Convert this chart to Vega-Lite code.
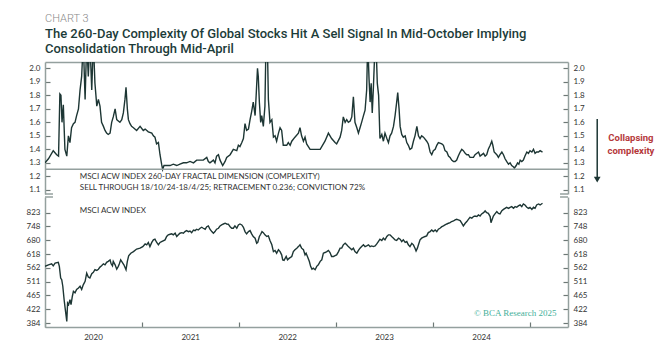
{
  "$schema": "https://vega.github.io/schema/vega-lite/v6.json",
  "background": "white",
  "padding": {"left": 26, "top": 13, "right": 5, "bottom": 5},
  "title": {
    "text": "CHART 3",
    "subtitle": ["The 260-Day Complexity Of Global Stocks Hit A Sell Signal In Mid-October Implying", "Consolidation Through Mid-April"],
    "anchor": "start",
    "frame": "group",
    "font": "Roboto",
    "fontSize": 11,
    "fontWeight": 300,
    "color": "#8a8a8a",
    "subtitleFont": "Roboto",
    "subtitleFontSize": 13,
    "subtitleFontWeight": 500,
    "subtitleColor": "#1c3c39",
    "subtitleLineHeight": 15,
    "subtitlePadding": 4,
    "offset": 6
  },
  "config": {
    "view": {"stroke": null},
    "axis": {
      "labelFont": "Lato",
      "labelFontSize": 8,
      "labelColor": "#333333",
      "domain": true,
      "domainWidth": 1.5,
      "domainColor": "#94a09e",
      "ticks": true,
      "tickWidth": 1.2,
      "tickColor": "#6d7876",
      "grid": false,
      "title": null
    }
  },
  "spacing": 1,
  "datasets": {
    "cx": [
      {"date": "2020-01-01", "v": 1.30}, {"date": "2020-01-14", "v": 1.33}, {"date": "2020-02-01", "v": 1.39}, {"date": "2020-02-14", "v": 1.36},
      {"date": "2020-02-21", "v": 1.35}, {"date": "2020-02-26", "v": 1.81}, {"date": "2020-03-01", "v": 1.80}, {"date": "2020-03-05", "v": 1.60},
      {"date": "2020-03-10", "v": 1.73}, {"date": "2020-03-16", "v": 1.40}, {"date": "2020-03-23", "v": 1.35}, {"date": "2020-03-29", "v": 1.50},
      {"date": "2020-04-04", "v": 1.45}, {"date": "2020-04-10", "v": 1.56}, {"date": "2020-04-17", "v": 1.59}, {"date": "2020-04-23", "v": 1.60},
      {"date": "2020-04-29", "v": 1.65}, {"date": "2020-05-06", "v": 1.70}, {"date": "2020-05-12", "v": 1.84}, {"date": "2020-05-18", "v": 1.94},
      {"date": "2020-05-24", "v": 2.2}, {"date": "2020-05-31", "v": 1.77}, {"date": "2020-06-06", "v": 2.2}, {"date": "2020-06-12", "v": 1.94},
      {"date": "2020-06-18", "v": 2.2}, {"date": "2020-06-25", "v": 1.84}, {"date": "2020-07-01", "v": 2.2}, {"date": "2020-07-07", "v": 1.89},
      {"date": "2020-07-14", "v": 1.72}, {"date": "2020-07-20", "v": 1.77}, {"date": "2020-07-26", "v": 1.72}, {"date": "2020-08-01", "v": 1.60},
      {"date": "2020-08-08", "v": 1.57}, {"date": "2020-08-14", "v": 1.54}, {"date": "2020-08-20", "v": 1.52}, {"date": "2020-08-26", "v": 1.51},
      {"date": "2020-09-02", "v": 1.52}, {"date": "2020-09-08", "v": 1.60}, {"date": "2020-09-14", "v": 1.64}, {"date": "2020-09-21", "v": 1.70},
      {"date": "2020-09-27", "v": 1.62}, {"date": "2020-10-03", "v": 1.61}, {"date": "2020-10-09", "v": 1.60}, {"date": "2020-10-16", "v": 1.62},
      {"date": "2020-10-22", "v": 1.67}, {"date": "2020-10-28", "v": 1.77}, {"date": "2020-11-01", "v": 1.86}, {"date": "2020-11-06", "v": 1.70},
      {"date": "2020-11-10", "v": 1.62}, {"date": "2020-11-16", "v": 1.59}, {"date": "2020-11-22", "v": 1.57}, {"date": "2020-11-29", "v": 1.56},
      {"date": "2020-12-11", "v": 1.54}, {"date": "2020-12-24", "v": 1.57}, {"date": "2021-01-05", "v": 1.54}, {"date": "2021-01-12", "v": 1.55},
      {"date": "2021-01-24", "v": 1.53}, {"date": "2021-02-06", "v": 1.52}, {"date": "2021-02-12", "v": 1.50}, {"date": "2021-02-18", "v": 1.49},
      {"date": "2021-02-24", "v": 1.44}, {"date": "2021-03-03", "v": 1.45}, {"date": "2021-03-09", "v": 1.36}, {"date": "2021-03-15", "v": 1.29},
      {"date": "2021-03-19", "v": 1.25}, {"date": "2021-03-24", "v": 1.28}, {"date": "2021-04-03", "v": 1.28}, {"date": "2021-04-16", "v": 1.28},
      {"date": "2021-04-28", "v": 1.29}, {"date": "2021-05-11", "v": 1.28}, {"date": "2021-05-23", "v": 1.29}, {"date": "2021-06-05", "v": 1.30},
      {"date": "2021-06-17", "v": 1.30}, {"date": "2021-06-30", "v": 1.31}, {"date": "2021-07-13", "v": 1.30}, {"date": "2021-07-25", "v": 1.32},
      {"date": "2021-08-07", "v": 1.32}, {"date": "2021-08-19", "v": 1.32}, {"date": "2021-09-01", "v": 1.34}, {"date": "2021-09-07", "v": 1.31},
      {"date": "2021-09-13", "v": 1.30}, {"date": "2021-09-26", "v": 1.32}, {"date": "2021-10-02", "v": 1.30}, {"date": "2021-10-08", "v": 1.35},
      {"date": "2021-10-15", "v": 1.36}, {"date": "2021-10-21", "v": 1.32}, {"date": "2021-10-31", "v": 1.28}, {"date": "2021-11-09", "v": 1.31},
      {"date": "2021-11-15", "v": 1.34}, {"date": "2021-11-28", "v": 1.36}, {"date": "2021-12-10", "v": 1.40}, {"date": "2021-12-23", "v": 1.39},
      {"date": "2021-12-29", "v": 1.43}, {"date": "2022-01-04", "v": 1.42}, {"date": "2022-01-11", "v": 1.45}, {"date": "2022-01-17", "v": 1.48},
      {"date": "2022-01-23", "v": 1.59}, {"date": "2022-01-29", "v": 1.54}, {"date": "2022-02-05", "v": 1.55}, {"date": "2022-02-11", "v": 1.62},
      {"date": "2022-02-17", "v": 1.68}, {"date": "2022-02-23", "v": 1.75}, {"date": "2022-03-02", "v": 1.65}, {"date": "2022-03-06", "v": 1.80},
      {"date": "2022-03-11", "v": 2.00}, {"date": "2022-03-14", "v": 1.94}, {"date": "2022-03-18", "v": 1.75}, {"date": "2022-03-23", "v": 1.60},
      {"date": "2022-03-27", "v": 1.65}, {"date": "2022-04-02", "v": 1.57}, {"date": "2022-04-08", "v": 1.72}, {"date": "2022-04-12", "v": 2.2},
      {"date": "2022-04-17", "v": 2.2}, {"date": "2022-04-21", "v": 1.77}, {"date": "2022-04-27", "v": 1.60}, {"date": "2022-05-04", "v": 1.62},
      {"date": "2022-05-10", "v": 1.49}, {"date": "2022-05-16", "v": 1.50}, {"date": "2022-05-22", "v": 1.46}, {"date": "2022-05-29", "v": 1.52},
      {"date": "2022-06-04", "v": 1.56}, {"date": "2022-06-10", "v": 1.54}, {"date": "2022-06-16", "v": 1.43}, {"date": "2022-06-29", "v": 1.43},
      {"date": "2022-07-05", "v": 1.45}, {"date": "2022-07-12", "v": 1.43}, {"date": "2022-07-18", "v": 1.46}, {"date": "2022-07-30", "v": 1.49},
      {"date": "2022-08-12", "v": 1.52}, {"date": "2022-08-18", "v": 1.56}, {"date": "2022-08-24", "v": 1.50}, {"date": "2022-08-31", "v": 1.46},
      {"date": "2022-09-06", "v": 1.49}, {"date": "2022-09-12", "v": 1.44}, {"date": "2022-09-25", "v": 1.40}, {"date": "2022-10-07", "v": 1.40},
      {"date": "2022-10-20", "v": 1.40}, {"date": "2022-11-02", "v": 1.40}, {"date": "2022-11-14", "v": 1.44}, {"date": "2022-11-20", "v": 1.46},
      {"date": "2022-12-03", "v": 1.52}, {"date": "2022-12-15", "v": 1.48}, {"date": "2022-12-28", "v": 1.45}, {"date": "2023-01-03", "v": 1.44},
      {"date": "2023-01-16", "v": 1.49}, {"date": "2023-01-22", "v": 1.54}, {"date": "2023-01-28", "v": 1.64}, {"date": "2023-02-04", "v": 1.60},
      {"date": "2023-02-10", "v": 1.62}, {"date": "2023-02-16", "v": 1.60}, {"date": "2023-02-23", "v": 1.61}, {"date": "2023-03-01", "v": 1.64},
      {"date": "2023-03-07", "v": 1.79}, {"date": "2023-03-13", "v": 1.60}, {"date": "2023-03-20", "v": 1.56}, {"date": "2023-03-26", "v": 1.52},
      {"date": "2023-04-01", "v": 1.56}, {"date": "2023-04-07", "v": 1.60}, {"date": "2023-04-14", "v": 1.65}, {"date": "2023-04-20", "v": 1.69},
      {"date": "2023-04-26", "v": 1.84}, {"date": "2023-04-30", "v": 2.2}, {"date": "2023-05-05", "v": 1.92}, {"date": "2023-05-09", "v": 1.75},
      {"date": "2023-05-13", "v": 1.89}, {"date": "2023-05-17", "v": 1.67}, {"date": "2023-05-21", "v": 1.84}, {"date": "2023-05-28", "v": 2.2},
      {"date": "2023-05-31", "v": 2.2}, {"date": "2023-06-05", "v": 1.89}, {"date": "2023-06-10", "v": 1.80}, {"date": "2023-06-15", "v": 1.48},
      {"date": "2023-06-22", "v": 1.51}, {"date": "2023-06-28", "v": 1.46}, {"date": "2023-07-04", "v": 1.52}, {"date": "2023-07-11", "v": 1.48},
      {"date": "2023-07-17", "v": 1.45}, {"date": "2023-07-23", "v": 1.50}, {"date": "2023-07-29", "v": 1.52}, {"date": "2023-08-05", "v": 1.57},
      {"date": "2023-08-11", "v": 1.65}, {"date": "2023-08-17", "v": 1.75}, {"date": "2023-08-21", "v": 1.82}, {"date": "2023-08-26", "v": 1.70},
      {"date": "2023-08-30", "v": 1.57}, {"date": "2023-09-05", "v": 1.51}, {"date": "2023-09-11", "v": 1.49}, {"date": "2023-09-18", "v": 1.50},
      {"date": "2023-09-24", "v": 1.45}, {"date": "2023-09-30", "v": 1.43}, {"date": "2023-10-06", "v": 1.40}, {"date": "2023-10-13", "v": 1.41},
      {"date": "2023-10-19", "v": 1.46}, {"date": "2023-10-25", "v": 1.50}, {"date": "2023-11-01", "v": 1.57}, {"date": "2023-11-07", "v": 1.50},
      {"date": "2023-11-13", "v": 1.48}, {"date": "2023-11-19", "v": 1.50}, {"date": "2023-11-26", "v": 1.49}, {"date": "2023-12-08", "v": 1.46},
      {"date": "2023-12-14", "v": 1.44}, {"date": "2023-12-21", "v": 1.38}, {"date": "2023-12-27", "v": 1.36}, {"date": "2024-01-02", "v": 1.39},
      {"date": "2024-01-09", "v": 1.40}, {"date": "2024-01-15", "v": 1.43}, {"date": "2024-01-21", "v": 1.45}, {"date": "2024-02-03", "v": 1.44},
      {"date": "2024-02-09", "v": 1.43}, {"date": "2024-02-15", "v": 1.39}, {"date": "2024-02-22", "v": 1.38}, {"date": "2024-02-28", "v": 1.35},
      {"date": "2024-03-05", "v": 1.34}, {"date": "2024-03-11", "v": 1.32}, {"date": "2024-03-18", "v": 1.31}, {"date": "2024-03-24", "v": 1.31},
      {"date": "2024-03-30", "v": 1.32}, {"date": "2024-04-05", "v": 1.35}, {"date": "2024-04-12", "v": 1.38}, {"date": "2024-04-18", "v": 1.40},
      {"date": "2024-04-24", "v": 1.39}, {"date": "2024-05-01", "v": 1.37}, {"date": "2024-05-07", "v": 1.36}, {"date": "2024-05-13", "v": 1.36},
      {"date": "2024-05-19", "v": 1.34}, {"date": "2024-06-01", "v": 1.34}, {"date": "2024-06-07", "v": 1.36}, {"date": "2024-06-20", "v": 1.38},
      {"date": "2024-06-26", "v": 1.35}, {"date": "2024-07-09", "v": 1.37}, {"date": "2024-07-15", "v": 1.35}, {"date": "2024-07-21", "v": 1.36},
      {"date": "2024-07-27", "v": 1.40}, {"date": "2024-08-03", "v": 1.43}, {"date": "2024-08-09", "v": 1.46}, {"date": "2024-08-13", "v": 1.43},
      {"date": "2024-08-18", "v": 1.38}, {"date": "2024-08-28", "v": 1.36}, {"date": "2024-09-03", "v": 1.34}, {"date": "2024-09-09", "v": 1.36},
      {"date": "2024-09-16", "v": 1.38}, {"date": "2024-09-22", "v": 1.36}, {"date": "2024-09-28", "v": 1.33}, {"date": "2024-10-04", "v": 1.31},
      {"date": "2024-10-11", "v": 1.29}, {"date": "2024-10-17", "v": 1.30}, {"date": "2024-10-23", "v": 1.28}, {"date": "2024-10-30", "v": 1.27},
      {"date": "2024-11-02", "v": 1.26}, {"date": "2024-11-09", "v": 1.28}, {"date": "2024-11-14", "v": 1.30}, {"date": "2024-11-19", "v": 1.29},
      {"date": "2024-11-24", "v": 1.32}, {"date": "2024-11-30", "v": 1.31}, {"date": "2024-12-06", "v": 1.32}, {"date": "2024-12-12", "v": 1.35},
      {"date": "2024-12-19", "v": 1.38}, {"date": "2024-12-25", "v": 1.37}, {"date": "2024-12-31", "v": 1.39}, {"date": "2025-01-07", "v": 1.38},
      {"date": "2025-01-13", "v": 1.40}, {"date": "2025-01-19", "v": 1.37}, {"date": "2025-01-25", "v": 1.38}, {"date": "2025-02-01", "v": 1.38},
      {"date": "2025-02-07", "v": 1.39}, {"date": "2025-02-16", "v": 1.38}
    ],
    "acwi": [
      {"date": "2020-01-01", "v": 568}, {"date": "2020-01-14", "v": 574}, {"date": "2020-01-26", "v": 578}, {"date": "2020-02-01", "v": 570},
      {"date": "2020-02-08", "v": 581}, {"date": "2020-02-20", "v": 584}, {"date": "2020-02-24", "v": 568}, {"date": "2020-02-29", "v": 524},
      {"date": "2020-03-04", "v": 518}, {"date": "2020-03-08", "v": 495}, {"date": "2020-03-13", "v": 451}, {"date": "2020-03-16", "v": 431},
      {"date": "2020-03-20", "v": 406}, {"date": "2020-03-23", "v": 388}, {"date": "2020-03-26", "v": 441}, {"date": "2020-03-30", "v": 436},
      {"date": "2020-04-04", "v": 451}, {"date": "2020-04-08", "v": 436}, {"date": "2020-04-13", "v": 462}, {"date": "2020-04-17", "v": 478},
      {"date": "2020-04-23", "v": 473}, {"date": "2020-04-29", "v": 484}, {"date": "2020-05-06", "v": 489}, {"date": "2020-05-12", "v": 495},
      {"date": "2020-05-18", "v": 484}, {"date": "2020-05-24", "v": 500}, {"date": "2020-05-31", "v": 512}, {"date": "2020-06-06", "v": 542},
      {"date": "2020-06-12", "v": 528}, {"date": "2020-06-18", "v": 524}, {"date": "2020-06-25", "v": 540}, {"date": "2020-07-01", "v": 545},
      {"date": "2020-07-07", "v": 555}, {"date": "2020-07-14", "v": 552}, {"date": "2020-07-20", "v": 557}, {"date": "2020-07-26", "v": 565},
      {"date": "2020-08-01", "v": 570}, {"date": "2020-08-08", "v": 578}, {"date": "2020-08-14", "v": 574}, {"date": "2020-08-20", "v": 584},
      {"date": "2020-08-26", "v": 588}, {"date": "2020-09-02", "v": 594}, {"date": "2020-09-06", "v": 578}, {"date": "2020-09-11", "v": 570},
      {"date": "2020-09-14", "v": 588}, {"date": "2020-09-21", "v": 574}, {"date": "2020-09-27", "v": 557}, {"date": "2020-10-03", "v": 568},
      {"date": "2020-10-07", "v": 578}, {"date": "2020-10-12", "v": 594}, {"date": "2020-10-18", "v": 584}, {"date": "2020-10-24", "v": 574},
      {"date": "2020-11-01", "v": 555}, {"date": "2020-11-06", "v": 588}, {"date": "2020-11-11", "v": 611}, {"date": "2020-11-19", "v": 622},
      {"date": "2020-11-29", "v": 629}, {"date": "2020-12-11", "v": 640}, {"date": "2020-12-24", "v": 644}, {"date": "2021-01-03", "v": 651},
      {"date": "2021-01-12", "v": 663}, {"date": "2021-01-18", "v": 659}, {"date": "2021-01-24", "v": 670}, {"date": "2021-01-30", "v": 651},
      {"date": "2021-02-06", "v": 670}, {"date": "2021-02-12", "v": 682}, {"date": "2021-02-18", "v": 685}, {"date": "2021-02-24", "v": 671},
      {"date": "2021-03-03", "v": 659}, {"date": "2021-03-09", "v": 670}, {"date": "2021-03-15", "v": 674}, {"date": "2021-03-28", "v": 682},
      {"date": "2021-04-03", "v": 698}, {"date": "2021-04-09", "v": 706}, {"date": "2021-04-16", "v": 709}, {"date": "2021-04-22", "v": 711},
      {"date": "2021-04-28", "v": 706}, {"date": "2021-05-05", "v": 714}, {"date": "2021-05-11", "v": 698}, {"date": "2021-05-17", "v": 706},
      {"date": "2021-05-23", "v": 714}, {"date": "2021-05-30", "v": 717}, {"date": "2021-06-05", "v": 714}, {"date": "2021-06-11", "v": 722},
      {"date": "2021-06-17", "v": 727}, {"date": "2021-06-24", "v": 722}, {"date": "2021-06-30", "v": 725}, {"date": "2021-07-06", "v": 717},
      {"date": "2021-07-13", "v": 730}, {"date": "2021-07-19", "v": 727}, {"date": "2021-07-25", "v": 734}, {"date": "2021-07-31", "v": 730},
      {"date": "2021-08-07", "v": 739}, {"date": "2021-08-13", "v": 744}, {"date": "2021-08-19", "v": 739}, {"date": "2021-08-26", "v": 734},
      {"date": "2021-09-01", "v": 747}, {"date": "2021-09-07", "v": 751}, {"date": "2021-09-13", "v": 734}, {"date": "2021-09-20", "v": 722},
      {"date": "2021-09-26", "v": 714}, {"date": "2021-10-02", "v": 722}, {"date": "2021-10-08", "v": 734}, {"date": "2021-10-15", "v": 739},
      {"date": "2021-10-21", "v": 751}, {"date": "2021-10-27", "v": 756}, {"date": "2021-11-03", "v": 761}, {"date": "2021-11-09", "v": 765},
      {"date": "2021-11-15", "v": 761}, {"date": "2021-11-21", "v": 760}, {"date": "2021-11-28", "v": 747}, {"date": "2021-12-04", "v": 739},
      {"date": "2021-12-10", "v": 739}, {"date": "2021-12-16", "v": 751}, {"date": "2021-12-23", "v": 739}, {"date": "2021-12-29", "v": 756},
      {"date": "2022-01-04", "v": 761}, {"date": "2022-01-11", "v": 756}, {"date": "2022-01-17", "v": 744}, {"date": "2022-01-23", "v": 722},
      {"date": "2022-01-29", "v": 711}, {"date": "2022-02-05", "v": 722}, {"date": "2022-02-11", "v": 727}, {"date": "2022-02-17", "v": 711},
      {"date": "2022-02-23", "v": 698}, {"date": "2022-03-02", "v": 690}, {"date": "2022-03-08", "v": 666}, {"date": "2022-03-12", "v": 670},
      {"date": "2022-03-18", "v": 698}, {"date": "2022-03-23", "v": 709}, {"date": "2022-03-28", "v": 722}, {"date": "2022-04-02", "v": 717},
      {"date": "2022-04-08", "v": 706}, {"date": "2022-04-15", "v": 698}, {"date": "2022-04-21", "v": 701}, {"date": "2022-04-27", "v": 679},
      {"date": "2022-05-04", "v": 659}, {"date": "2022-05-10", "v": 629}, {"date": "2022-05-16", "v": 634}, {"date": "2022-05-22", "v": 622},
      {"date": "2022-05-29", "v": 637}, {"date": "2022-06-04", "v": 629}, {"date": "2022-06-10", "v": 615}, {"date": "2022-06-14", "v": 594},
      {"date": "2022-06-19", "v": 592}, {"date": "2022-06-27", "v": 608}, {"date": "2022-07-02", "v": 594}, {"date": "2022-07-09", "v": 601},
      {"date": "2022-07-18", "v": 608}, {"date": "2022-07-24", "v": 629}, {"date": "2022-07-30", "v": 637}, {"date": "2022-08-06", "v": 644},
      {"date": "2022-08-12", "v": 651}, {"date": "2022-08-18", "v": 659}, {"date": "2022-08-24", "v": 644}, {"date": "2022-08-31", "v": 637},
      {"date": "2022-09-06", "v": 615}, {"date": "2022-09-10", "v": 622}, {"date": "2022-09-15", "v": 608}, {"date": "2022-09-22", "v": 588},
      {"date": "2022-09-27", "v": 568}, {"date": "2022-10-02", "v": 557}, {"date": "2022-10-07", "v": 561}, {"date": "2022-10-14", "v": 555},
      {"date": "2022-10-20", "v": 568}, {"date": "2022-10-26", "v": 574}, {"date": "2022-11-02", "v": 588}, {"date": "2022-11-08", "v": 594},
      {"date": "2022-11-14", "v": 622}, {"date": "2022-11-20", "v": 625}, {"date": "2022-11-27", "v": 629}, {"date": "2022-12-03", "v": 634},
      {"date": "2022-12-09", "v": 625}, {"date": "2022-12-15", "v": 608}, {"date": "2022-12-22", "v": 608}, {"date": "2022-12-28", "v": 612},
      {"date": "2023-01-03", "v": 615}, {"date": "2023-01-10", "v": 629}, {"date": "2023-01-16", "v": 644}, {"date": "2023-01-22", "v": 644},
      {"date": "2023-01-28", "v": 659}, {"date": "2023-02-04", "v": 666}, {"date": "2023-02-10", "v": 659}, {"date": "2023-02-16", "v": 651},
      {"date": "2023-02-23", "v": 644}, {"date": "2023-03-01", "v": 637}, {"date": "2023-03-07", "v": 644}, {"date": "2023-03-13", "v": 629},
      {"date": "2023-03-20", "v": 622}, {"date": "2023-03-26", "v": 634}, {"date": "2023-04-01", "v": 644}, {"date": "2023-04-07", "v": 651},
      {"date": "2023-04-14", "v": 659}, {"date": "2023-04-20", "v": 651}, {"date": "2023-04-26", "v": 654}, {"date": "2023-05-03", "v": 659},
      {"date": "2023-05-09", "v": 651}, {"date": "2023-05-15", "v": 654}, {"date": "2023-05-21", "v": 651}, {"date": "2023-05-28", "v": 654},
      {"date": "2023-06-03", "v": 663}, {"date": "2023-06-09", "v": 674}, {"date": "2023-06-15", "v": 685}, {"date": "2023-06-22", "v": 679},
      {"date": "2023-06-28", "v": 690}, {"date": "2023-07-04", "v": 682}, {"date": "2023-07-11", "v": 698}, {"date": "2023-07-17", "v": 706},
      {"date": "2023-07-23", "v": 706}, {"date": "2023-07-29", "v": 698}, {"date": "2023-08-05", "v": 690}, {"date": "2023-08-11", "v": 682},
      {"date": "2023-08-17", "v": 679}, {"date": "2023-08-24", "v": 690}, {"date": "2023-08-30", "v": 685}, {"date": "2023-09-05", "v": 674},
      {"date": "2023-09-11", "v": 682}, {"date": "2023-09-18", "v": 670}, {"date": "2023-09-24", "v": 674}, {"date": "2023-09-30", "v": 659},
      {"date": "2023-10-06", "v": 651}, {"date": "2023-10-13", "v": 666}, {"date": "2023-10-19", "v": 659}, {"date": "2023-10-25", "v": 644},
      {"date": "2023-10-29", "v": 632}, {"date": "2023-11-03", "v": 644}, {"date": "2023-11-07", "v": 659}, {"date": "2023-11-13", "v": 682},
      {"date": "2023-11-19", "v": 690}, {"date": "2023-11-26", "v": 695}, {"date": "2023-12-02", "v": 698}, {"date": "2023-12-08", "v": 701},
      {"date": "2023-12-14", "v": 717}, {"date": "2023-12-21", "v": 722}, {"date": "2023-12-27", "v": 730}, {"date": "2024-01-02", "v": 722},
      {"date": "2024-01-09", "v": 730}, {"date": "2024-01-15", "v": 722}, {"date": "2024-01-21", "v": 734}, {"date": "2024-01-27", "v": 739},
      {"date": "2024-02-03", "v": 747}, {"date": "2024-02-09", "v": 751}, {"date": "2024-02-15", "v": 756}, {"date": "2024-02-22", "v": 761},
      {"date": "2024-02-28", "v": 765}, {"date": "2024-03-05", "v": 768}, {"date": "2024-03-11", "v": 774}, {"date": "2024-03-18", "v": 777},
      {"date": "2024-03-24", "v": 783}, {"date": "2024-03-30", "v": 786}, {"date": "2024-04-05", "v": 783}, {"date": "2024-04-12", "v": 779},
      {"date": "2024-04-18", "v": 765}, {"date": "2024-04-24", "v": 751}, {"date": "2024-05-01", "v": 765}, {"date": "2024-05-07", "v": 774},
      {"date": "2024-05-13", "v": 786}, {"date": "2024-05-19", "v": 797}, {"date": "2024-05-26", "v": 792}, {"date": "2024-06-01", "v": 801},
      {"date": "2024-06-07", "v": 804}, {"date": "2024-06-14", "v": 801}, {"date": "2024-06-20", "v": 810}, {"date": "2024-06-26", "v": 804},
      {"date": "2024-07-02", "v": 816}, {"date": "2024-07-09", "v": 823}, {"date": "2024-07-15", "v": 833}, {"date": "2024-07-21", "v": 823},
      {"date": "2024-07-27", "v": 819}, {"date": "2024-08-03", "v": 801}, {"date": "2024-08-06", "v": 768}, {"date": "2024-08-15", "v": 804},
      {"date": "2024-08-21", "v": 816}, {"date": "2024-08-28", "v": 829}, {"date": "2024-09-03", "v": 819}, {"date": "2024-09-09", "v": 816},
      {"date": "2024-09-16", "v": 834}, {"date": "2024-09-22", "v": 842}, {"date": "2024-09-28", "v": 848}, {"date": "2024-10-04", "v": 854},
      {"date": "2024-10-11", "v": 848}, {"date": "2024-10-17", "v": 854}, {"date": "2024-10-23", "v": 858}, {"date": "2024-10-30", "v": 848},
      {"date": "2024-11-05", "v": 858}, {"date": "2024-11-11", "v": 854}, {"date": "2024-11-17", "v": 862}, {"date": "2024-11-24", "v": 868},
      {"date": "2024-11-30", "v": 858}, {"date": "2024-12-06", "v": 874}, {"date": "2024-12-12", "v": 868}, {"date": "2024-12-19", "v": 854},
      {"date": "2024-12-25", "v": 848}, {"date": "2024-12-31", "v": 854}, {"date": "2025-01-07", "v": 842}, {"date": "2025-01-13", "v": 854},
      {"date": "2025-01-19", "v": 848}, {"date": "2025-01-25", "v": 868}, {"date": "2025-02-01", "v": 874}, {"date": "2025-02-07", "v": 868},
      {"date": "2025-02-16", "v": 878}
    ]
  },
  "vconcat": [
    {
      "width": 523,
      "height": 132,
      "resolve": {"axis": {"y": "independent"}},
      "layer": [
        {
          "data": {"values": [{}]},
          "mark": {"type": "rule", "color": "#94a09e", "strokeWidth": 1.5},
          "encoding": {
            "x": {"datum": {"year": 2020, "month": 1, "date": 1, "utc": true}, "type": "temporal"},
            "x2": {"datum": {"year": 2020, "month": 1, "date": 31, "utc": true}},
            "y": {"datum": 1.069, "type": "quantitative", "axis": null}
          }
        },
        {
          "data": {"values": [{}]},
          "mark": {"type": "rule", "color": "#94a09e", "strokeWidth": 1.5},
          "encoding": {
            "x": {"datum": {"year": 2025, "month": 4, "date": 23, "utc": true}, "type": "temporal"},
            "x2": {"datum": {"year": 2025, "month": 5, "date": 23, "utc": true}},
            "y": {"datum": 1.069, "type": "quantitative", "axis": null}
          }
        },
        {
          "data": {"name": "cx"},
          "mark": {"type": "line", "clip": true, "color": "#1d3634", "strokeWidth": 1.4},
          "encoding": {
            "x": {
              "field": "date", "type": "temporal",
              "scale": {"type": "utc", "domain": [{"year": 2020, "month": 1, "date": 1, "utc": true}, {"year": 2025, "month": 5, "date": 23, "utc": true}]},
              "axis": {"orient": "top", "labels": false, "ticks": false, "domain": true}
            },
            "y": {
              "field": "v", "type": "quantitative",
              "scale": {"domain": [1.069, 2.047], "nice": false, "zero": false},
              "axis": {"orient": "left", "values": [1.1, 1.2, 1.3, 1.4, 1.5, 1.6, 1.7, 1.8, 1.9, 2.0], "format": ".1f", "tickSize": -5, "labelPadding": 10}
            }
          }
        },
        {
          "data": {"values": [{}]},
          "mark": {"type": "rule", "color": "#94a09e", "strokeWidth": 1.5},
          "encoding": {
            "y": {"datum": 1.252, "type": "quantitative", "axis": {"orient": "right", "values": [1.1, 1.2, 1.3, 1.4, 1.5, 1.6, 1.7, 1.8, 1.9, 2.0], "format": ".1f", "tickSize": -5, "labelPadding": 10}}
          }
        },
        {
          "data": {"values": [{}]},
          "mark": {"type": "text", "align": "left", "baseline": "middle", "font": "Lato", "fontSize": 8, "color": "#333333", "lineHeight": 11},
          "encoding": {
            "x": {"datum": {"year": 2020, "month": 5, "date": 11, "utc": true}, "type": "temporal"},
            "y": {"datum": 1.197, "type": "quantitative", "axis": null},
            "text": {"value": ["MSCI ACW INDEX 260-DAY FRACTAL DIMENSION (COMPLEXITY)", "SELL THROUGH 18/10/24-18/4/25; RETRACEMENT 0.236; CONVICTION 72%"]}
          }
        },
        {
          "data": {"values": [{}]},
          "mark": {"type": "rule", "color": "#1d3634", "strokeWidth": 1.5},
          "encoding": {
            "x": {"datum": {"year": 2025, "month": 9, "date": 10, "utc": true}, "type": "temporal"},
            "y": {"datum": 1.624, "type": "quantitative", "axis": null},
            "y2": {"datum": 1.18}
          }
        },
        {
          "data": {"values": [{}]},
          "mark": {"type": "point", "shape": "triangle-down", "filled": true, "color": "#1d3634", "size": 45, "opacity": 1},
          "encoding": {
            "x": {"datum": {"year": 2025, "month": 9, "date": 10, "utc": true}, "type": "temporal"},
            "y": {"datum": 1.175, "type": "quantitative", "axis": null}
          }
        },
        {
          "data": {"values": [{}]},
          "mark": {"type": "text", "align": "center", "baseline": "middle", "font": "Roboto", "fontSize": 9.5, "fontWeight": "bold", "color": "#b5383a", "lineHeight": 13},
          "encoding": {
            "x": {"datum": {"year": 2026, "month": 1, "date": 15, "utc": true}, "type": "temporal"},
            "y": {"datum": 1.484, "type": "quantitative", "axis": null},
            "text": {"value": ["Collapsing", "complexity"]}
          }
        }
      ]
    },
    {
      "width": 523,
      "height": 130,
      "resolve": {"axis": {"y": "independent"}},
      "layer": [
        {
          "data": {"values": [{}]},
          "mark": {"type": "rule", "color": "#94a09e", "strokeWidth": 1.5},
          "encoding": {
            "x": {"datum": {"year": 2020, "month": 1, "date": 1, "utc": true}, "type": "temporal"},
            "x2": {"datum": {"year": 2020, "month": 1, "date": 31, "utc": true}},
            "y": {"datum": 917, "type": "quantitative", "axis": null}
          }
        },
        {
          "data": {"values": [{}]},
          "mark": {"type": "rule", "color": "#94a09e", "strokeWidth": 1.5},
          "encoding": {
            "x": {"datum": {"year": 2025, "month": 4, "date": 23, "utc": true}, "type": "temporal"},
            "x2": {"datum": {"year": 2025, "month": 5, "date": 23, "utc": true}},
            "y": {"datum": 917, "type": "quantitative", "axis": null}
          }
        },
        {
          "data": {"name": "acwi"},
          "mark": {"type": "line", "clip": true, "color": "#1d3634", "strokeWidth": 1.4},
          "encoding": {
            "x": {
              "field": "date", "type": "temporal",
              "scale": {"type": "utc", "domain": [{"year": 2020, "month": 1, "date": 1, "utc": true}, {"year": 2025, "month": 5, "date": 23, "utc": true}]},
              "axis": {
                "orient": "bottom",
                "values": [{"year": 2020, "month": 1, "date": 1, "utc": true}, {"year": 2021, "month": 1, "date": 1, "utc": true}, {"year": 2022, "month": 1, "date": 1, "utc": true}, {"year": 2023, "month": 1, "date": 1, "utc": true}, {"year": 2024, "month": 1, "date": 1, "utc": true}, {"year": 2025, "month": 1, "date": 1, "utc": true}],
                "labelExpr": "utcyear(datum.value) >= 2025 ? '' : utcFormat(datum.value, '%Y')",
                "labelOffset": 48,
                "labelFlush": false,
                "labelOverlap": false,
                "tickSize": -5,
                "labelPadding": 11
              }
            },
            "y": {
              "field": "v", "type": "quantitative",
              "scale": {"type": "log", "domain": [373.6, 917], "nice": false, "zero": false},
              "axis": {"orient": "left", "values": [384, 422, 465, 511, 562, 618, 680, 748, 823], "format": "d", "tickSize": -5, "labelPadding": 10}
            }
          }
        },
        {
          "data": {"values": [{}]},
          "mark": {"type": "text", "align": "left", "baseline": "middle", "font": "Lato", "fontSize": 8, "color": "#333333"},
          "encoding": {
            "x": {"datum": {"year": 2020, "month": 5, "date": 11, "utc": true}, "type": "temporal"},
            "y": {"datum": 834, "type": "quantitative", "axis": {"orient": "right", "values": [384, 422, 465, 511, 562, 618, 680, 748, 823], "format": "d", "tickSize": -5, "labelPadding": 10}},
            "text": {"value": "MSCI ACW INDEX"}
          }
        },
        {
          "data": {"values": [{}]},
          "mark": {"type": "text", "align": "right", "baseline": "middle", "font": "Liberation Serif", "fontSize": 9, "color": "#45b09a"},
          "encoding": {
            "x": {"datum": {"year": 2025, "month": 4, "date": 10, "utc": true}, "type": "temporal"},
            "y": {"datum": 411.6, "type": "quantitative", "axis": null},
            "text": {"value": "© BCA Research 2025"}
          }
        }
      ]
    }
  ]
}
